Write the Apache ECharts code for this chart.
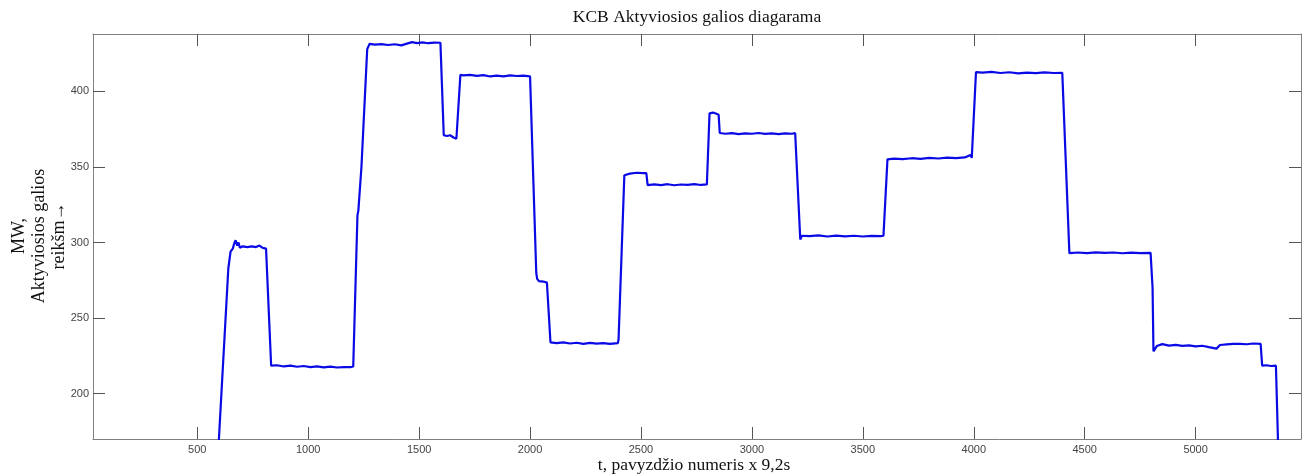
<!DOCTYPE html>
<html>
<head>
<meta charset="utf-8">
<title>KCB Aktyviosios galios diagarama</title>
<script src="https://cdn.jsdelivr.net/npm/echarts@6/dist/echarts.min.js"></script>
<style>
html,body{margin:0;padding:0;background:#fff;}
#box1{width:1306px;height:476px;}
</style>
</head>
<body>
<div id="box1"></div>
<script>
// pavyzdzio numeris (x ašis)
var tSample = [590,640,650,660,668,673,680,686,692,705,725,745,765,780,795,810,815,
	833,860,890,920,950,980,1010,1040,1070,1100,1130,1160,1190,1203,
	1222,1226,1234,1240,1266,1277,1300,1330,1360,1390,1420,1445,1468,1490,1515,1540,1570,1596,
	1611,1625,1640,1655,1668,
	1686,1700,1730,1760,1790,1820,1850,1880,1910,1940,1970,2000,
	2028,2032,2040,2060,2076,
	2092,2120,2150,2180,2210,2240,2270,2300,2330,2360,2396,2399,
	2425,2450,2480,2510,2524,
	2530,2560,2590,2620,2650,2680,2710,2740,2770,2797,
	2809,2825,2840,2850,
	2855,2880,2910,2940,2970,3000,3030,3060,3090,3120,3150,3180,3195,
	3218,3225,3260,3300,3340,3380,3420,3460,3500,3540,3580,3593,
	3611,3640,3680,3720,3760,3800,3840,3880,3920,3960,3985,3991,
	4010,4040,4080,4120,4160,4200,4240,4280,4320,4360,4399,
	4431,4470,4510,4550,4590,4630,4670,4710,4750,4797,
	4806,4810,4825,4850,4880,4910,4940,4970,5000,5030,5060,5094,5110,5140,5170,5200,5230,5260,5293,
	5300,5320,5340,5362,5372];
// aktyvioji galia, MW
var power = [150,283,294,296,300,301.5,298,300,296.5,297.5,297,297.5,297,298,296.5,296,295.5,
	218.5,218.8,218,218.5,217.8,218.3,217.6,218,217.4,217.9,217.3,217.6,217.5,218,
	318,321,320,350,428,431.5,431,431.3,430.7,431.2,430.5,431.6,432.6,432,432.4,431.9,432.3,432.2,
	371,370.5,371,369.5,368.7,
	411,410.6,411,410.3,410.8,409.9,410.5,410,410.6,410.2,410.4,410,
	280,276,274.5,274.2,273.5,
	234,233.5,233.9,233.2,233.7,233,233.6,233.1,233.5,232.9,233.4,236,
	344.5,345.6,346.2,346,346,
	338,338.5,338,338.6,337.9,338.4,338.2,338.6,338.1,338.5,
	385.5,386,385.2,384.5,
	372.5,372,372.4,371.8,372.3,372,372.5,371.9,372.2,371.8,372.3,372,372.5,
	302,304.5,304.2,304.8,304,304.6,304.1,304.5,304,304.4,304.2,304.5,
	355,355.5,355.2,355.8,355.4,356,355.6,356.2,355.9,356.3,358,356,
	412.8,412.4,412.9,412.2,412.7,412,412.5,412.1,412.6,412.2,412.3,
	293,293.4,293,293.5,293.1,293.4,292.9,293.3,293,293.2,
	270,228,231.5,232.8,231.8,232.3,231.6,232,231.3,231.7,230.8,229.8,232.2,232.6,232.9,233,232.7,233.2,233,
	218.5,218.8,218.3,218.5,165];
var xTicks = [500,1000,1500,2000,2500,3000,3500,4000,4500,5000];
var yTicks = [200,250,300,350,400];

var lineData = [];
for (var i = 0; i < tSample.length; i++) {
	lineData.push([tSample[i], power[i]]);
}

var dom = document.getElementById("box1");
var myChart = echarts.init(dom);
var boxColor = '#808080';
var tickColor = '#555';
var serif = '"Liberation Serif","DejaVu Serif",serif';

function xAx(pos, showLabel){
	return {
		type: 'value',
		position: pos,
		min: 30,
		max: 5475,
		axisLine: {show: true, lineStyle: {color: boxColor, width: 1}},
		axisTick: {show: true, inside: true, length: 12, customValues: xTicks, lineStyle: {color: tickColor}},
		axisLabel: {show: showLabel, customValues: xTicks, color: '#444', fontSize: 11, fontFamily: 'Liberation Sans', margin: 5,
			formatter: function(v){ return String(v); }},
		splitLine: {show: false}
	};
}
function yAx(pos, showLabel){
	return {
		type: 'value',
		position: pos,
		min: 170,
		max: 438,
		axisLine: {show: true, lineStyle: {color: boxColor, width: 1}},
		axisTick: {show: true, inside: true, length: 12, customValues: yTicks, lineStyle: {color: tickColor}},
		axisLabel: {show: showLabel, customValues: yTicks, color: '#444', fontSize: 11, fontFamily: 'Liberation Sans', margin: 4,
			formatter: function(v){ return String(v); }},
		splitLine: {show: false}
	};
}

var option = {
	animation: false,
	grid: {left: 93, right: 5, top: 34, bottom: 37, containLabel: false},
	xAxis: [xAx('bottom', true), xAx('top', false)],
	yAxis: [yAx('left', true), yAx('right', false)],
	graphic: [
		{
			type: 'text', x: 697, y: 17,
			style: {text: 'KCB Aktyviosios galios diagarama', font: '17.5px ' + serif, fill: '#111', textAlign: 'center', textVerticalAlign: 'middle'}
		},
		{
			type: 'text', x: 694, y: 465,
			style: {text: 't, pavyzdžio numeris x 9,2s', font: '17.5px ' + serif, fill: '#111', textAlign: 'center', textVerticalAlign: 'middle'}
		},
		{
			type: 'text', x: 39, y: 236, rotation: Math.PI / 2,
			style: {text: 'MW,\nAktyviosios galios\nreikšm→', font: '18px ' + serif, lineHeight: 20, fill: '#111', textAlign: 'center', textVerticalAlign: 'middle'}
		}
	],
	series: [
		{
			type: 'line',
			data: lineData,
			showSymbol: false,
			clip: true,
			lineStyle: {color: '#0a0ae6', width: 2.2},
			itemStyle: {color: '#0a0ae6'}
		}
	]
};
myChart.setOption(option, true);
</script>
</body>
</html>
